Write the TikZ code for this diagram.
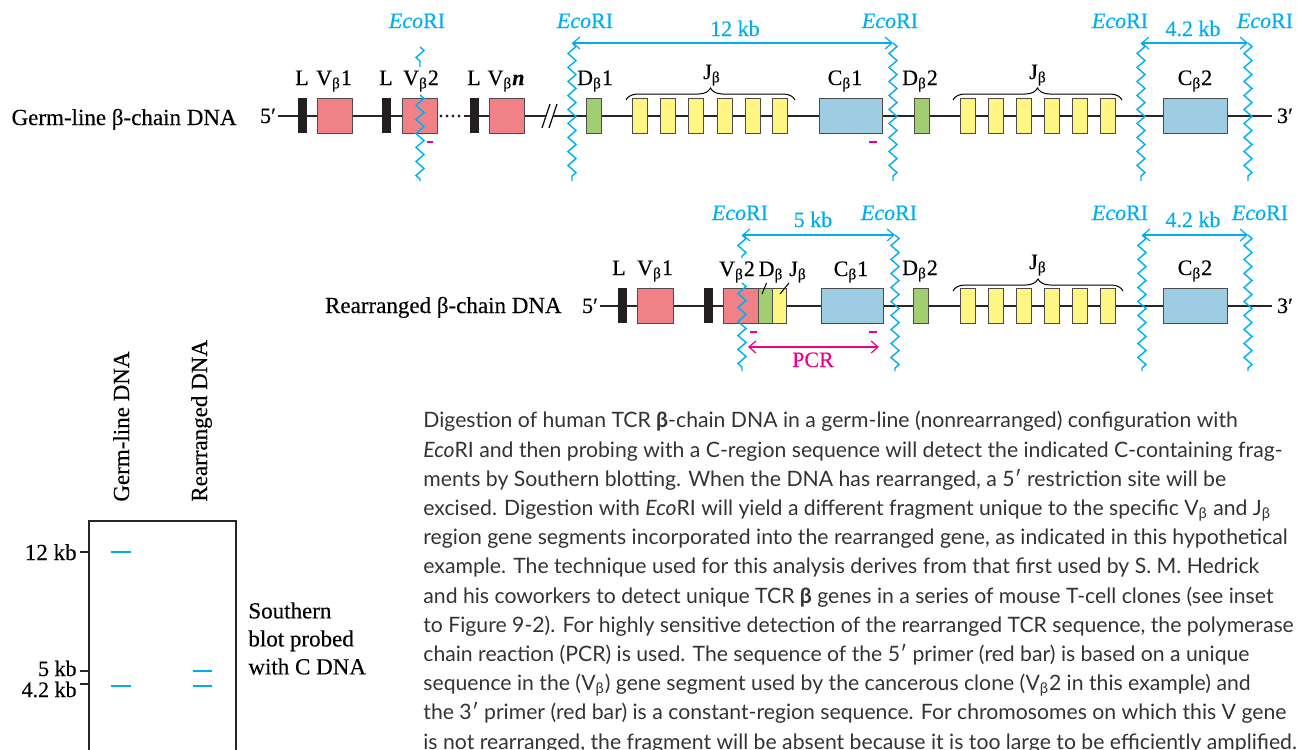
\documentclass[tikz,border=0pt]{standalone}
\usepackage{fontspec}
\setmainfont{Liberation Serif}[FakeBold=0.3]
\newfontfamily\capfont{Lato}
\usetikzlibrary{arrows.meta, calc, decorations.pathmorphing, decorations.pathreplacing}

\definecolor{ecocyan}{RGB}{0,174,239}
\definecolor{vpink}{RGB}{240,130,135}
\definecolor{dgreen}{RGB}{160,206,112}
\definecolor{jyellow}{RGB}{255,245,130}
\definecolor{cblue}{RGB}{158,204,226}
\definecolor{primer}{RGB}{236,0,140}
\definecolor{lbar}{RGB}{35,31,32}

\newcommand{\eco}{\textit{Eco}RI}
\newcommand{\bsub}{\textsubscript{β}}

\tikzset{
  dna/.style={line width=1pt, black!85},
  seg/.style={draw=black!70, line width=0.5pt},
  cut/.style={ecocyan, line width=0.7pt, decorate,
    decoration={zigzag, segment length=7pt, amplitude=2pt}},
  kbarrow/.style={ecocyan, line width=0.6pt,
    {Straight Barb[length=3.5pt, width=6pt]}-{Straight Barb[length=3.5pt, width=6pt]}},
  pcrarrow/.style={primer, line width=0.6pt,
    {Straight Barb[length=3.5pt, width=6pt]}-{Straight Barb[length=3.5pt, width=6pt]}},
  primerbar/.style={primer, line width=1.2pt},
  jbrace/.style={decorate, decoration={brace, amplitude=6pt}, line width=0.5pt},
  ecolab/.style={ecocyan, anchor=base},
  genelab/.style={anchor=base},
  band/.style={ecocyan, line width=0.8pt},
}

\begin{document}
\begin{tikzpicture}[x=0.5pt, y=-0.5pt, every node/.style={font=\fontsize{11}{13}\selectfont, inner sep=0pt}]
  \useasboundingbox (0,0) rectangle (1297,750);

  % ---- germ-line row ----
  \node[anchor=base east, font=\fontsize{11.5}{13}\selectfont] (glab) at (237,125) {Germ-line β-chain DNA};
  \node[anchor=base] (g5) at (268,123) {5′};
  \node[anchor=base] (g3) at (1285,123) {3′};
  \coordinate (gstart) at (278,116);
  \coordinate (gend) at (1272,116);
  \draw[dna] (gstart) -- (437,116);
  \draw[dna] (464,116) -- (546,116);
  \draw[dna] (553,116) -- (gend);
  \foreach \x in {441,447,453,459}
    \fill[black!85] (\x,116) circle (0.8pt);
  \draw[line width=0.6pt] (542,128) -- (550,104);
  \draw[line width=0.6pt] (549,128) -- (557,104);
  % leaders and V segments
  \foreach \x in {298,382,470}
    \fill[lbar] (\x,98) rectangle ++(9,35);
  \foreach \x in {317,402,489}
    \filldraw[seg, fill=vpink] (\x,98) rectangle ++(35,35);
  % D, J and C segments
  \filldraw[seg, fill=dgreen] (586,98) rectangle ++(15,35);
  \filldraw[seg, fill=dgreen] (914,98) rectangle ++(15,35);
  \foreach \x in {632,660,688,717,745,772,960,988,1016,1044,1072,1100}
    \filldraw[seg, fill=jyellow] (\x,98) rectangle ++(15,35);
  \filldraw[seg, fill=cblue] (819,98) rectangle ++(63,35);
  \filldraw[seg, fill=cblue] (1163,98) rectangle ++(64,35);
  \draw[jbrace] (626,100) -- (795,100);
  \draw[jbrace] (953,100) -- (1122,100);
  % labels
  \node[genelab] (gl1) at (302,85) {L};
  \node[genelab] (gv1) at (334,85) {V\bsub1};
  \node[genelab] (gl2) at (386,85) {L};
  \node[genelab] (gv2) at (421,85) {V\bsub2};
  \node[genelab] (gl3) at (474,85) {L};
  \node[genelab] (gvn) at (506,85) {V\bsub\textbf{\textit{n}}};
  \node[genelab] (gd1) at (595,85) {D\bsub1};
  \node[genelab] (gj1) at (712,79) {J\bsub};
  \node[genelab] (gc1) at (845,85) {C\bsub1};
  \node[genelab] (gd2) at (920,85) {D\bsub2};
  \node[genelab] (gj2) at (1038,79) {J\bsub};
  \node[genelab] (gc2) at (1195,85) {C\bsub2};
  % EcoRI sites
  \coordinate (ge1) at (420,47);
  \coordinate (ge2) at (572,43);
  \coordinate (ge3) at (893,43);
  \coordinate (ge4) at (1141,43);
  \coordinate (ge5) at (1248,43);
  \draw[cut] (ge1) -- ++(0,20);
  \draw[cut] (420,95) -- (420,181);
  \foreach \c in {ge2,ge3,ge4,ge5}
    \draw[cut] (\c) -- ++(0,138);
  \node[ecolab] (gek1) at (417,28) {\eco};
  \node[ecolab] (gek2) at (585,28) {\eco};
  \node[ecolab] (gek3) at (890,28) {\eco};
  \node[ecolab] (gek4) at (1120,28) {\eco};
  \node[ecolab] (gek5) at (1265,28) {\eco};
  \draw[kbarrow] (ge2) -- (ge3);
  \draw[kbarrow] (ge4) -- (ge5);
  \node[ecolab] (g12) at (735,36) {12 kb};
  \node[ecolab] (g42) at (1193,36) {4.2 kb};
  % primers
  \draw[primerbar] (427,142) -- (433,142);
  \draw[primerbar] (869,142) -- (877,142);

  % ---- rearranged row ----
  \node[anchor=base east, font=\fontsize{11.5}{13}\selectfont] (rlab) at (562,313) {Rearranged β-chain DNA};
  \node[anchor=base] (r5) at (590,313) {5′};
  \node[anchor=base] (r3) at (1285,313) {3′};
  \coordinate (rstart) at (600,306);
  \coordinate (rend) at (1272,306);
  \draw[dna] (rstart) -- (rend);
  \foreach \x in {618,704}
    \fill[lbar] (\x,288) rectangle ++(9,35);
  \filldraw[seg, fill=vpink] (637,288) rectangle ++(36,35);
  \filldraw[seg, fill=vpink] (723,288) rectangle ++(35,35);
  \filldraw[seg, fill=dgreen] (758,288) rectangle ++(14,35);
  \filldraw[seg, fill=jyellow] (772,288) rectangle ++(14,35);
  \filldraw[seg, fill=cblue] (821,288) rectangle ++(62,35);
  \filldraw[seg, fill=dgreen] (913,288) rectangle ++(15,35);
  \foreach \x in {960,988,1016,1044,1072,1100}
    \filldraw[seg, fill=jyellow] (\x,288) rectangle ++(15,35);
  \filldraw[seg, fill=cblue] (1163,288) rectangle ++(64,35);
  \draw[jbrace] (953,291) -- (1123,291);
  % labels
  \node[genelab] (rl1) at (619,275) {L};
  \node[genelab] (rv1) at (655,275) {V\bsub1};
  \node[genelab] (rv2) at (737,276) {V\bsub2};
  \node[genelab] (rdl) at (771,276) {D\bsub};
  \node[genelab] (rjl) at (798,276) {J\bsub};
  \node[genelab] (rc1) at (851,276) {C\bsub1};
  \node[genelab] (rd2) at (920,275) {D\bsub2};
  \node[genelab] (rj2) at (1038,269) {J\bsub};
  \node[genelab] (rc2) at (1195,275) {C\bsub2};
  \coordinate (rdtip) at (762,294);
  \coordinate (rjtip) at (780,294);
  \draw[line width=0.5pt] (rdl) -- (rdtip);
  \draw[line width=0.5pt] (rjl) -- (rjtip);
  % EcoRI sites
  \coordinate (re1) at (742,235);
  \coordinate (re2) at (895,235);
  \coordinate (re3) at (1142,235);
  \coordinate (re4) at (1248,235);
  \draw[cut] (re1) -- ++(0,23);
  \draw[cut] (742,283) -- (742,371);
  \foreach \c in {re2,re3,re4}
    \draw[cut] (\c) -- ++(0,136);
  \node[ecolab] (rek1) at (740,220) {\eco};
  \node[ecolab] (rek2) at (889,220) {\eco};
  \node[ecolab] (rek3) at (1120,220) {\eco};
  \node[ecolab] (rek4) at (1260,220) {\eco};
  \draw[kbarrow] (re1) -- (re2);
  \draw[kbarrow] (re3) -- (re4);
  \node[ecolab] (r5k) at (813,227) {5 kb};
  \node[ecolab] (r42) at (1193,227) {4.2 kb};
  % primers and PCR product
  \draw[primerbar] (750,332) -- (757,332);
  \draw[primerbar] (869,332) -- (877,332);
  \coordinate (pcrl) at (748,347);
  \coordinate (pcrr) at (879,347);
  \draw[pcrarrow] (pcrl) -- (pcrr);
  \node[anchor=base, primer] (pcr) at (813,367) {PCR};

  % ---- Southern blot ----
  \node[anchor=base west, rotate=90, font=\fontsize{11.5}{13}\selectfont] (lanea) at (129,502) {Germ-line DNA};
  \node[anchor=base west, rotate=90, font=\fontsize{11.5}{13}\selectfont] (laneb) at (207,502) {Rearranged DNA};
  \draw[line width=0.6pt, black!85] (89,760) -- (89,521) -- (236,521) -- (236,760);
  \draw[line width=0.6pt, black!85] (80,552) -- (89,552);
  \draw[line width=0.6pt, black!85] (80,671) -- (89,671);
  \draw[line width=0.6pt, black!85] (80,684) -- (89,684);
  \node[anchor=base east, font=\fontsize{11.5}{13}\selectfont] (m12) at (77,560) {12 kb};
  \node[anchor=base east, font=\fontsize{11}{12}\selectfont] (m5) at (77,676) {5 kb};
  \node[anchor=base east, font=\fontsize{11}{12}\selectfont] (m42) at (77,697) {4.2 kb};
  \draw[band] (111,552) -- (131,552);
  \draw[band] (111,686) -- (131,686);
  \draw[band] (193,671) -- (212,671);
  \draw[band] (193,686) -- (212,686);
  \node[anchor=north west, align=left, font=\fontsize{11.5}{14}\selectfont] (blot) at (248,602)
    {Southern\\blot probed\\with C DNA};

  % ---- caption ----
  \node[anchor=north west, align=left, black!80, font=\capfont\fontsize{10.6}{14.6}\selectfont] (cap) at (423,411)
    {Digestion of human TCR \textbf{β}-chain DNA in a germ-line (nonrearranged) configuration with\\
     \textit{Eco}RI and then probing with a C-region sequence will detect the indicated C-containing frag-\\
     ments by Southern blotting. When the DNA has rearranged, a 5′ restriction site will be\\
     excised. Digestion with \textit{Eco}RI will yield a different fragment unique to the specific V\bsub{} and J\bsub\\
     region gene segments incorporated into the rearranged gene, as indicated in this hypothetical\\
     example. The technique used for this analysis derives from that first used by S. M. Hedrick\\
     and his coworkers to detect unique TCR \textbf{β} genes in a series of mouse T-cell clones (see inset\\
     to Figure 9-2). For highly sensitive detection of the rearranged TCR sequence, the polymerase\\
     chain reaction (PCR) is used. The sequence of the 5′ primer (red bar) is based on a unique\\
     sequence in the (V\bsub) gene segment used by the cancerous clone (V\bsub2 in this example) and\\
     the 3′ primer (red bar) is a constant-region sequence. For chromosomes on which this V gene\\
     is not rearranged, the fragment will be absent because it is too large to be efficiently amplified.};
\end{tikzpicture}
\end{document}
